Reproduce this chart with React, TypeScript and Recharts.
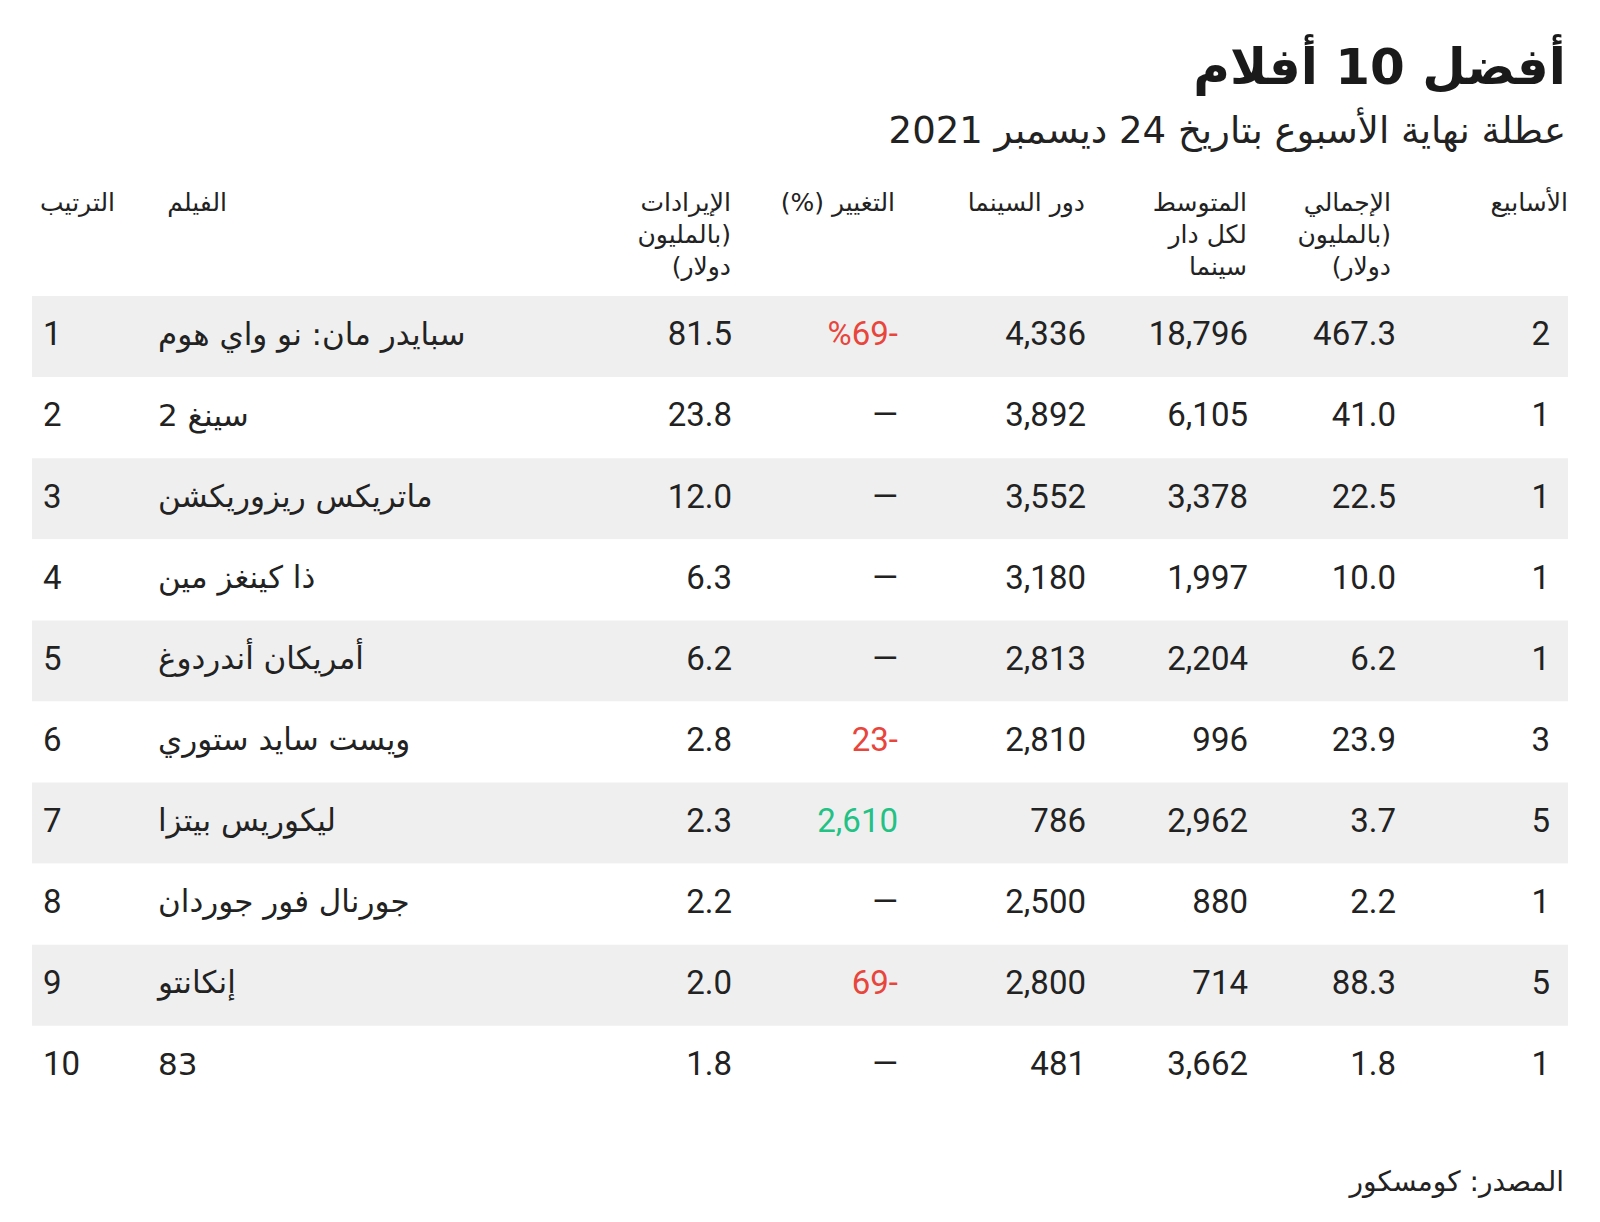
import React from "react";
import { ComposedChart, Bar, Cell, XAxis, YAxis, LabelList } from "recharts";

// Top 10 films, weekend of Dec 24 2021 (source: Comscore)
const ranks = ["1", "2", "3", "4", "5", "6", "7", "8", "9", "10"];
const films = [
  "سبايدر مان: نو واي هوم",
  "سينغ 2",
  "ماتريكس ريزوريكشن",
  "ذا كينغز مين",
  "أمريكان أندردوغ",
  "ويست سايد ستوري",
  "ليكوريس بيتزا",
  "جورنال فور جوردان",
  "إنكانتو",
  "83",
];
const revenue = [81.5, 23.8, 12.0, 6.3, 6.2, 2.8, 2.3, 2.2, 2.0, 1.8];
const changePct: (number | null)[] = [-69, null, null, null, null, -23, 2610, null, -69, null];
const theaters = [4336, 3892, 3552, 3180, 2813, 2810, 786, 2500, 2800, 481];
const perTheater = [18796, 6105, 3378, 1997, 2204, 996, 2962, 880, 714, 3662];
const totalGross = [467.3, 41.0, 22.5, 10.0, 6.2, 23.9, 3.7, 2.2, 88.3, 1.8];
const weeks = [2, 1, 1, 1, 1, 3, 5, 1, 5, 1];

const W = 1600;
const H = 1222;
const TEXT = "#222222";
const RED = "#e8453c";
const GREEN = "#22c184";
const BAND = "#efefef";
const NUM_FONT = "Roboto, 'DejaVu Sans', sans-serif";
const AR_FONT = "'DejaVu Sans', Roboto, sans-serif";
const NUM_SIZE = 33;

const fmtInt = (v: number) => v.toLocaleString("en-US");
// the change column is printed the way the original graphic shows it
const fmtChange = (v: number | null, i: number) => {
  if (v == null) return "—";
  if (v < 0) return `${i === 0 ? "%" : ""}${Math.abs(v)}-`;
  return fmtInt(v);
};

const rows = ranks.map((rank, i) => ({
  rank,
  film: films[i],
  revenue: revenue[i].toFixed(1),
  change: fmtChange(changePct[i], i),
  theaters: fmtInt(theaters[i]),
  perTheater: fmtInt(perTheater[i]),
  total: totalGross[i].toFixed(1),
  weeks: String(weeks[i]),
  band: 1,
}));

const headers = [
  { right: 1568, lines: ["الأسابيع"] },
  { right: 1391, lines: ["الإجمالي", "(بالمليون", "دولار)"] },
  { right: 1247, lines: ["المتوسط", "لكل دار", "سينما"] },
  { right: 1085, lines: ["دور السينما"] },
  { right: 895, lines: ["التغيير (%)"] },
  { right: 731, lines: ["الإيرادات", "(بالمليون", "دولار)"] },
  { right: 227, lines: ["الفيلم"] },
  { right: 115, lines: ["الترتيب"] },
];

const cell =
  (x: number, anchor: "start" | "end", font: string, size: number, colorOf?: (v: string) => string) =>
  (props: any) => {
    const vb = props.viewBox ?? props;
    const value = String(props.value ?? "");
    return (
      <text
        x={x}
        y={vb.y + vb.height / 2 - 3}
        dy="0.36em"
        textAnchor={anchor}
        fontFamily={font}
        fontSize={size}
        fill={colorOf ? colorOf(value) : TEXT}
      >
        {value}
      </text>
    );
  };

const changeColor = (v: string) => (v === "—" ? TEXT : v.endsWith("-") ? RED : GREEN);

export default function App() {
  return (
    <div
      style={{
        position: "absolute",
        top: 0,
        left: 0,
        width: W,
        height: H,
        background: "#ffffff",
        color: TEXT,
        fontFamily: AR_FONT,
      }}
    >
      <div
        dir="rtl"
        style={{
          position: "absolute",
          right: W - 1566,
          top: 32,
          fontSize: 50,
          fontWeight: 700,
          lineHeight: "70px",
          whiteSpace: "nowrap",
          color: "#1a1a1a",
        }}
      >
        أفضل 10 أفلام
      </div>
      <div
        dir="rtl"
        style={{
          position: "absolute",
          right: W - 1566,
          top: 106,
          fontSize: 37,
          lineHeight: "50px",
          whiteSpace: "nowrap",
        }}
      >
        عطلة نهاية الأسبوع بتاريخ 24 ديسمبر 2021
      </div>

      {headers.map((h, i) => (
        <div
          key={i}
          dir="rtl"
          style={{
            position: "absolute",
            right: W - h.right,
            top: 187,
            fontSize: 25,
            lineHeight: "32px",
            textAlign: "right",
            whiteSpace: "nowrap",
          }}
        >
          {h.lines.map((l, j) => (
            <div key={j}>{l}</div>
          ))}
        </div>
      ))}

      <div style={{ position: "absolute", top: 0, left: 0 }}>
        <ComposedChart
          width={W}
          height={H}
          data={rows}
          layout="vertical"
          barCategoryGap={0}
          margin={{ top: 296, right: 32, bottom: 115, left: 32 }}
        >
          <XAxis type="number" domain={[0, 1]} hide />
          <YAxis type="category" dataKey="rank" hide />
          <Bar dataKey="band" isAnimationActive={false}>
            {rows.map((_, i) => (
              <Cell key={i} fill={i % 2 === 0 ? BAND : "#ffffff"} />
            ))}
            <LabelList dataKey="rank" content={cell(43, "start", NUM_FONT, NUM_SIZE)} />
            <LabelList dataKey="film" content={cell(158, "start", AR_FONT, 31)} />
            <LabelList dataKey="revenue" content={cell(732, "end", NUM_FONT, NUM_SIZE)} />
            <LabelList dataKey="change" content={cell(898, "end", NUM_FONT, NUM_SIZE, changeColor)} />
            <LabelList dataKey="theaters" content={cell(1086, "end", NUM_FONT, NUM_SIZE)} />
            <LabelList dataKey="perTheater" content={cell(1248, "end", NUM_FONT, NUM_SIZE)} />
            <LabelList dataKey="total" content={cell(1396, "end", NUM_FONT, NUM_SIZE)} />
            <LabelList dataKey="weeks" content={cell(1550, "end", NUM_FONT, NUM_SIZE)} />
          </Bar>
        </ComposedChart>
      </div>

      <div
        dir="rtl"
        style={{
          position: "absolute",
          right: W - 1564,
          top: 1163,
          fontSize: 28,
          lineHeight: "38px",
          whiteSpace: "nowrap",
        }}
      >
        المصدر: كومسكور
      </div>
    </div>
  );
}
